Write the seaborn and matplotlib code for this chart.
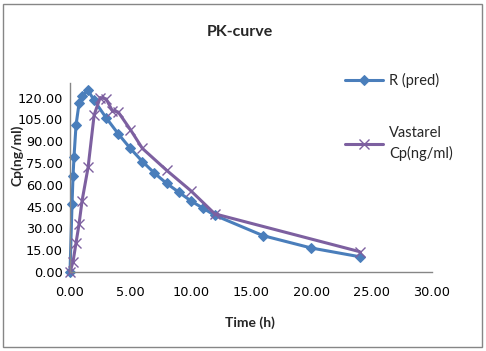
import pandas as pd
import matplotlib
matplotlib.use("Agg")
import matplotlib.pyplot as plt
from matplotlib.patches import Rectangle
import seaborn as sns

# R (pred) - predicted concentration
pred_time = [0, 0.17, 0.25, 0.33, 0.5, 0.75, 1, 1.5, 2, 3, 4, 5, 6, 7, 8, 9, 10, 11, 12, 16, 20, 24]
pred_cp = [0, 47, 66, 79, 101, 116, 121, 125, 118, 106, 95, 85, 76, 68, 61, 55, 49, 44, 39, 25, 16.5, 10.5]

# Vastarel observed concentration
obs_time = [0, 0.25, 0.5, 0.75, 1, 1.5, 2, 2.5, 3, 3.5, 4, 5, 6, 8, 10, 12, 24]
obs_cp = [0, 7, 20, 33, 49, 72, 108, 120, 119, 111, 110, 98, 85, 70, 56, 40, 14]

x_ticks = [0, 5, 10, 15, 20, 25, 30]
y_ticks = [0, 15, 30, 45, 60, 75, 90, 105, 120]

blue = "#4A7EBB"
purple = "#7D60A0"
grey = "#868686"

pred = pd.DataFrame({"t": pred_time, "cp": pred_cp})
obs = pd.DataFrame({"t": obs_time, "cp": obs_cp})

sns.set_theme(style="white")
plt.rcParams["font.family"] = ["Lato", "DejaVu Sans"]

fig = plt.figure(figsize=(4.86, 3.51), dpi=100)
ax = fig.add_axes([70 / 486, 1 - 272 / 351, (432 - 70) / 486, (272 - 83) / 351])

sns.lineplot(data=pred, x="t", y="cp", ax=ax, color=blue, lw=2.2, marker="D",
             markersize=5.5, markeredgecolor=blue, estimator=None, sort=False,
             label="R (pred)", clip_on=False)
sns.lineplot(data=obs, x="t", y="cp", ax=ax, color=purple, lw=2.2, marker="x",
             markersize=6.5, markeredgewidth=1.0, markeredgecolor=purple,
             estimator=None, sort=False, label="Vastarel\nCp(ng/ml)", clip_on=False)

ax.set_xlim(0, 30)
ax.set_ylim(0, 130)
ax.set_xticks(x_ticks)
ax.set_yticks(y_ticks)
ax.set_xticklabels([f"{v:.2f}" for v in x_ticks], family="DejaVu Sans", fontsize=9.3)
ax.set_yticklabels([f"{v:.2f}" for v in y_ticks], family="DejaVu Sans", fontsize=9.3)
ax.tick_params(axis="x", length=0, pad=10, colors="black")
ax.tick_params(axis="y", length=0, pad=5, colors="black")
for s in ["top", "right"]:
    ax.spines[s].set_visible(False)
for s in ["left", "bottom"]:
    ax.spines[s].set_color(grey)
    ax.spines[s].set_linewidth(1.0)

ax.set_xlabel("Time (h)", fontsize=10, fontweight="bold")
ax.set_ylabel("Cp(ng/ml)", fontsize=10, fontweight="bold")
ax.xaxis.set_label_coords((250 - 70) / 362, -(316 - 272) / 189)
ax.yaxis.set_label_coords(-(70 - 23) / 362, (272 - 155) / 189)
fig.text(240 / 486, 1 - 32 / 351, "PK-curve", fontsize=11.5, fontweight="bold",
         ha="center", va="center")

leg = ax.legend(loc="upper left", bbox_to_anchor=(332 / 486, 1 - 60 / 351),
                bbox_transform=fig.transFigure, frameon=False, fontsize=10.5,
                handlelength=2.6, handletextpad=0.4, labelspacing=2.6)
for txt in leg.get_texts():
    txt.set_linespacing(1.45)

fig.patches.append(Rectangle((3 / 486, 4 / 351), 479 / 486, 343 / 351,
                             transform=fig.transFigure, fill=False,
                             edgecolor=grey, lw=1.0))

fig.savefig("out.png", dpi=100)
